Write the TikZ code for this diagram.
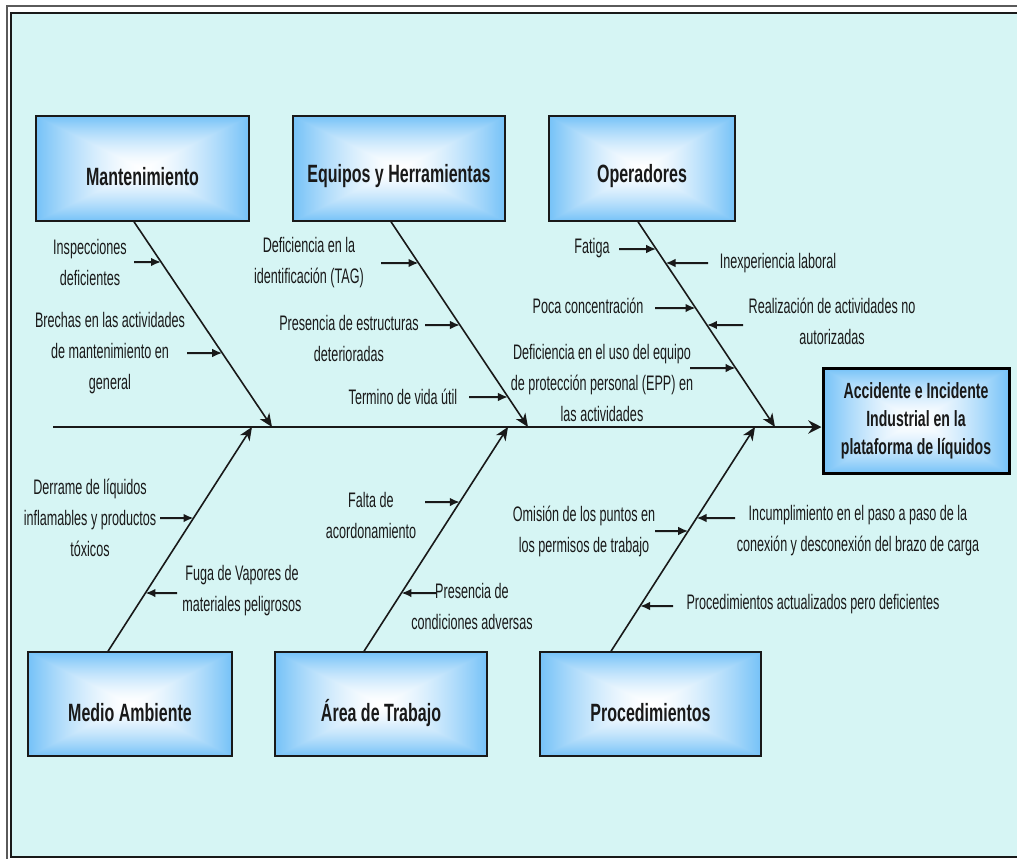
\documentclass[tikz,border=0pt]{standalone}
\usepackage{fontspec}
\setmainfont{Liberation Sans}[FakeStretch=0.6]
\newfontfamily\headfont{Liberation Sans}[FakeStretch=0.64]
\usetikzlibrary{arrows.meta}

% one pixel of the layout grid
\newlength\pxu
\setlength\pxu{0.75pt}

\definecolor{bgcyan}{RGB}{214,245,244}
\definecolor{ink}{RGB}{25,25,25}
\definecolor{framegray}{RGB}{90,90,90}

% rectangular glow: white centre fading to light blue at the edges
% (the central 50bp square is what covers the shaded path)
\pgfdeclarefunctionalshading{boxglow}{\pgfpoint{-50bp}{-50bp}}{\pgfpoint{50bp}{50bp}}{}{
  abs exch abs 2 copy lt {exch} if pop 25 div dup 1 gt {pop 1} if dup sqrt mul
  dup 0.54 mul 1 exch sub exch
  dup 0.24 mul 1 exch sub exch
  0.03 mul 1 exch sub
}

% short cause arrow ending on a bone, at height #4, starting at x=#3
\newcommand\causeto[4]{%
  \draw[cause] (#3,#4) -- (intersection of #1--#2 and 0,#4--1,#4);}

\tikzset{
  catbox/.style={draw=ink, line width=1.5\pxu, shade, shading=boxglow,
    minimum height=105\pxu, inner sep=0pt},
  headtext/.style={text=ink, inner sep=0pt,
    font=\headfont\bfseries\fontsize{18.75}{24}\selectfont},
  effecttext/.style={text=ink, inner sep=0pt, align=center,
    font=\headfont\bfseries\fontsize{16.5}{21}\selectfont},
  causetext/.style={text=ink, inner sep=0pt, align=center,
    font=\fontsize{15.75}{23.25}\selectfont},
  cause/.style={draw=ink, line width=2\pxu, -{Latex[length=7.5pt,width=6.5pt]}},
  bone/.style={draw=ink, line width=1.6\pxu, -{Stealth[length=10pt,width=8.5pt,inset=3pt]}},
  spine/.style={draw=ink, line width=2\pxu, -{Stealth[length=10pt,width=10pt,inset=3.5pt]}},
}

\begin{document}
\begin{tikzpicture}[x=0.75pt,y=-0.75pt]
\useasboundingbox (0,0) rectangle (1017,858);
\clip (0,0) rectangle (1017,858);

% double frame
\fill[white] (0,0) rectangle (1017,858);
\draw[framegray, line width=1.5\pxu] (7,870) -- (7,6) -- (1030,6);
\draw[ink, line width=1.5\pxu, fill=bgcyan] (11,13) rectangle (1030,857);

% category boxes
\node[catbox, minimum width=213\pxu] (mant)  at (142.5,168.5) {};
\node[catbox, minimum width=212\pxu] (equip) at (399,168.5) {};
\node[catbox, minimum width=186\pxu] (oper)  at (642,168.5) {};
\node[catbox, minimum width=204\pxu, minimum height=104\pxu] (medio) at (130,704) {};
\node[catbox, minimum width=212\pxu, minimum height=104\pxu] (area)  at (381,704) {};
\node[catbox, minimum width=221\pxu, minimum height=104\pxu] (proc)  at (650.5,704) {};

\node[headtext] (mant-l)  at ([yshift=-6pt]mant.center)  {Mantenimiento};
\node[headtext] (equip-l) at ([yshift=-6pt]equip.center) {Equipos y Herramientas};
\node[headtext] (oper-l)  at ([yshift=-6pt]oper.center)  {Operadores};
\node[headtext] (medio-l) at ([yshift=-6.5pt]medio.center) {Medio Ambiente};
\node[headtext] (area-l)  at ([yshift=-6.5pt]area.center)  {Área de Trabajo};
\node[headtext] (proc-l)  at ([yshift=-6.5pt]proc.center)  {Procedimientos};

% effect box
\node[catbox, draw=black, line width=3\pxu, minimum width=186\pxu] (effect) at (916,420.5) {};
\node[effecttext] (effect-l) at (effect.center)
  {Accidente e Incidente\\Industrial en la\\plataforma de líquidos};

% spine
\coordinate (spine-tail) at (53,427);
\draw[spine] (spine-tail) -- (spine-tail -| effect.west);

% bones
\coordinate (m-root)  at ([xshift=-8.5\pxu]mant.south);
\coordinate (m-tip)   at (272,427);
\coordinate (e-root)  at ([xshift=-8\pxu]equip.south);
\coordinate (e-tip)   at (528,427);
\coordinate (o-root)  at ([xshift=-4\pxu]oper.south);
\coordinate (o-tip)   at (775,427);
\coordinate (ma-root) at ([xshift=-22\pxu]medio.north);
\coordinate (ma-tip)  at (252,427);
\coordinate (a-root)  at ([xshift=-17\pxu]area.north);
\coordinate (a-tip)   at (508,427);
\coordinate (p-root)  at ([xshift=-39.5\pxu]proc.north);
\coordinate (p-tip)   at (755,427);

\draw[bone] (m-root) -- (m-tip);
\draw[bone] (e-root) -- (e-tip);
\draw[bone] (o-root) -- (o-tip);
\draw[bone] (ma-root) -- (ma-tip);
\draw[bone] (a-root) -- (a-tip);
\draw[bone] (p-root) -- (p-tip);

% causes: Mantenimiento
\node[causetext] (t-insp)    at (90,262)  {Inspecciones\\deficientes};
\node[causetext] (t-brechas) at (110,353) {Brechas en las actividades\\de mantenimiento en\\general};
\causeto{m-root}{m-tip}{134}{262}
\causeto{m-root}{m-tip}{187}{353}

% causes: Equipos y Herramientas
\node[causetext] (t-tag)     at (309,263) {Deficiencia en la\\identificación (TAG)};
\node[causetext] (t-estruct) at (349,338) {Presencia de estructuras\\deterioradas};
\node[causetext] (t-vida)    at (403,397) {Termino de vida útil};
\causeto{e-root}{e-tip}{381}{263}
\causeto{e-root}{e-tip}{425}{325}
\causeto{e-root}{e-tip}{469}{397}

% causes: Operadores
\node[causetext] (t-fatiga)  at (592,248) {Fatiga};
\node[causetext] (t-inexp)   at (778,263) {Inexperiencia laboral};
\node[causetext] (t-poca)    at (588,306) {Poca concentración};
\node[causetext] (t-realiz)  at (832,321) {Realización de actividades no\\autorizadas};
\node[causetext] (t-epp)     at (602,383) {Deficiencia en el uso del equipo\\de protección personal (EPP) en\\las actividades};
\causeto{o-root}{o-tip}{619}{249}
\causeto{o-root}{o-tip}{708}{263}
\causeto{o-root}{o-tip}{655}{308}
\causeto{o-root}{o-tip}{743}{325}
\causeto{o-root}{o-tip}{690}{368}

% causes: Medio Ambiente
\node[causetext] (t-derrame) at (90,518)  {Derrame de líquidos\\inflamables y productos\\tóxicos};
\node[causetext] (t-fuga)    at (242,591) {Fuga de Vapores de\\materiales peligrosos};
\causeto{ma-root}{ma-tip}{160}{518}
\causeto{ma-root}{ma-tip}{177}{593}

% causes: Área de Trabajo
\node[causetext] (t-falta)     at (371,515) {Falta de\\acordonamiento};
\node[causetext] (t-presencia) at (472,606) {Presencia de\\condiciones adversas};
\causeto{a-root}{a-tip}{425}{502}
\causeto{a-root}{a-tip}{436}{593}

% causes: Procedimientos
\node[causetext] (t-omision) at (584,531) {Omisión de los puntos en\\los permisos de trabajo};
\node[causetext] (t-incump)  at (858,531) {Incumplimiento en el paso a paso de la\\conexión y desconexión del brazo de carga};
\node[causetext] (t-proced)  at (813,604) {Procedimientos actualizados pero deficientes};
\causeto{p-root}{p-tip}{655}{531}
\causeto{p-root}{p-tip}{735}{518}
\causeto{p-root}{p-tip}{673}{606}
\end{tikzpicture}
\end{document}
